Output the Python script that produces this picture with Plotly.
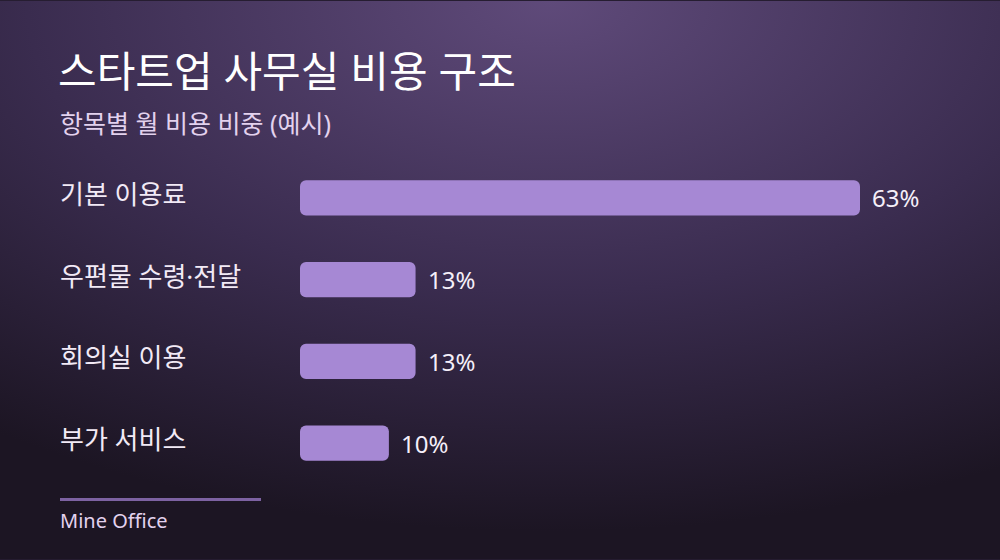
import base64
import plotly.graph_objects as go

# data
categories = ["기본 이용료", "우편물 수령·전달", "회의실 이용", "부가 서비스"]
shares = [63, 13, 13, 10]

W, H = 1000, 560
FONT = "Noto Sans, Noto Sans CJK KR"
BAR = "#a688d4"

# plot area in pixels
L, R = 300, 860
T, B = 156.5, 484.5


def px_x(px):
    return (px - L) / (R - L)


def px_y(py):
    return (B - py) / (B - T)


# background radial gradient as svg
svg = f"""<svg xmlns='http://www.w3.org/2000/svg' width='{W}' height='{H}'>
<defs><radialGradient id='g' cx='0.55' cy='0' r='0.95'>
<stop offset='0' stop-color='#5f4a7a'/>
<stop offset='0.55' stop-color='#3a2c4f'/>
<stop offset='1' stop-color='#1c1523'/>
</radialGradient></defs>
<rect width='{W}' height='{H}' fill='url(#g)'/></svg>"""
bg_src = "data:image/svg+xml;base64," + base64.b64encode(svg.encode()).decode()

fig = go.Figure()
fig.add_trace(go.Bar(
    x=shares, base=[0] * len(shares), y=categories, orientation="h",
    marker=dict(color=BAR, cornerradius=6, line=dict(width=0)),
    width=0.43, hoverinfo="skip",
))

# value labels
for c, v in zip(categories, shares):
    fig.add_annotation(x=v, y=c, text=f"{v}%", showarrow=False,
                       xanchor="left", xshift=10,
                       font=dict(family=FONT, size=24, color="#f5eff9"))

# category labels
for c in categories:
    fig.add_annotation(x=px_x(58), xref="paper", y=c, text=c, showarrow=False,
                       xanchor="left", yshift=4,
                       font=dict(family=FONT, size=26, color="#f2eaf6"))

# title, subtitle, footer
fig.add_annotation(x=px_x(56), y=px_y(70), xref="paper", yref="paper",
                   text="스타트업 사무실 비용 구조", showarrow=False,
                   xanchor="left", yanchor="middle",
                   font=dict(family=FONT, size=42, color="#ffffff"))
fig.add_annotation(x=px_x(58), y=px_y(122), xref="paper", yref="paper",
                   text="항목별 월 비용 비중 (예시)", showarrow=False,
                   xanchor="left", yanchor="middle",
                   font=dict(family=FONT, size=25, color="#e3d2ee"))
fig.add_annotation(x=px_x(58), y=px_y(521), xref="paper", yref="paper",
                   text="Mine Office", showarrow=False,
                   xanchor="left", yanchor="middle",
                   font=dict(family=FONT, size=20, color="#e3d2ee"))
fig.add_shape(type="line", xref="paper", yref="paper",
              x0=px_x(60), x1=px_x(261), y0=px_y(500), y1=px_y(500),
              line=dict(color="#7d62a2", width=3))

fig.add_layout_image(dict(
    source=bg_src, xref="paper", yref="paper",
    x=px_x(0), y=px_y(0), sizex=W / (R - L), sizey=H / (B - T),
    xanchor="left", yanchor="top", sizing="stretch", layer="below",
))

fig.update_layout(
    width=W, height=H,
    margin=dict(l=L, r=W - R, t=T, b=H - B),
    paper_bgcolor="#261d31", plot_bgcolor="rgba(0,0,0,0)",
    showlegend=False, barmode="overlay",
    xaxis=dict(range=[0, max(shares)], visible=False, fixedrange=True),
    yaxis=dict(autorange="reversed", visible=False, fixedrange=True),
    bargap=0.57,
)

fig.write_html("out.html", config={"displayModeBar": False},
               post_script="document.body.style.margin='0';document.body.style.background='#1c1523';")
